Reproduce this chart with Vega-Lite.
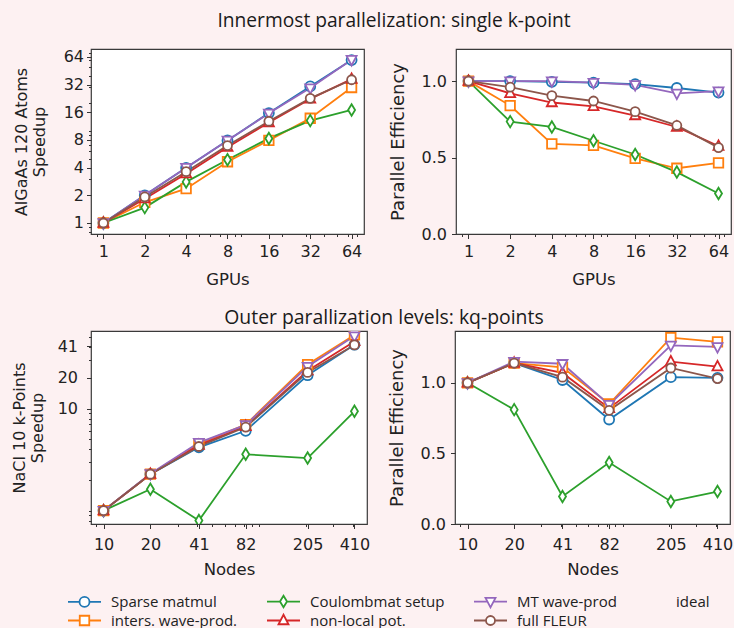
{
"$schema": "https://vega.github.io/schema/vega-lite/v6.json",
"background": "#fdf1f2",
"padding": {"left": 10, "top": 11, "right": 0, "bottom": 0},
"config": {
  "view": {"stroke": "#3a3a3a", "strokeWidth": 1.2, "fill": "white"},
  "axis": {"domain": false, "grid": false, "labelFont": "DejaVu Sans", "labelFontSize": 16, "labelColor": "#222", "titleFont": "DejaVu Sans", "titleFontSize": 16.5, "titleFontWeight": "normal", "titleColor": "#222", "tickColor": "#333", "tickWidth": 1, "labelOverlap": false, "labelFlush": false, "labelBound": false},
  "title": {"font": "Open Sans", "fontSize": 19.4, "fontWeight": "normal", "color": "#1a1a1a", "anchor": "middle"}
},
"datasets": {
 "tl": [
  {"s":"Sparse matmul","n":1,"v":1},{"s":"Sparse matmul","n":2,"v":2.0},{"s":"Sparse matmul","n":4,"v":3.98},{"s":"Sparse matmul","n":8,"v":7.92},{"s":"Sparse matmul","n":16,"v":15.7},{"s":"Sparse matmul","n":32,"v":30.6},{"s":"Sparse matmul","n":64,"v":59.2},
  {"s":"inters. wave-prod.","n":1,"v":1},{"s":"inters. wave-prod.","n":2,"v":1.68},{"s":"inters. wave-prod.","n":4,"v":2.36},{"s":"inters. wave-prod.","n":8,"v":4.64},{"s":"inters. wave-prod.","n":16,"v":7.92},{"s":"inters. wave-prod.","n":32,"v":13.8},{"s":"inters. wave-prod.","n":64,"v":29.8},
  {"s":"Coulombmat setup","n":1,"v":1},{"s":"Coulombmat setup","n":2,"v":1.47},{"s":"Coulombmat setup","n":4,"v":2.8},{"s":"Coulombmat setup","n":8,"v":4.88},{"s":"Coulombmat setup","n":16,"v":8.32},{"s":"Coulombmat setup","n":32,"v":13.0},{"s":"Coulombmat setup","n":64,"v":17.0},
  {"s":"non-local pot.","n":1,"v":1},{"s":"non-local pot.","n":2,"v":1.84},{"s":"non-local pot.","n":4,"v":3.44},{"s":"non-local pot.","n":8,"v":6.68},{"s":"non-local pot.","n":16,"v":12.4},{"s":"non-local pot.","n":32,"v":22.4},{"s":"non-local pot.","n":64,"v":36.8},
  {"s":"MT wave-prod","n":1,"v":1},{"s":"MT wave-prod","n":2,"v":2.0},{"s":"MT wave-prod","n":4,"v":4.0},{"s":"MT wave-prod","n":8,"v":7.92},{"s":"MT wave-prod","n":16,"v":15.6},{"s":"MT wave-prod","n":32,"v":29.4},{"s":"MT wave-prod","n":64,"v":59.8},
  {"s":"full FLEUR","n":1,"v":1},{"s":"full FLEUR","n":2,"v":1.92},{"s":"full FLEUR","n":4,"v":3.62},{"s":"full FLEUR","n":8,"v":6.96},{"s":"full FLEUR","n":16,"v":12.8},{"s":"full FLEUR","n":32,"v":22.7},{"s":"full FLEUR","n":64,"v":36.2}
 ],
 "tr": [
  {"s":"Sparse matmul","n":1,"v":1},{"s":"Sparse matmul","n":2,"v":1.0},{"s":"Sparse matmul","n":4,"v":0.995},{"s":"Sparse matmul","n":8,"v":0.99},{"s":"Sparse matmul","n":16,"v":0.98},{"s":"Sparse matmul","n":32,"v":0.955},{"s":"Sparse matmul","n":64,"v":0.925},
  {"s":"inters. wave-prod.","n":1,"v":1},{"s":"inters. wave-prod.","n":2,"v":0.84},{"s":"inters. wave-prod.","n":4,"v":0.59},{"s":"inters. wave-prod.","n":8,"v":0.58},{"s":"inters. wave-prod.","n":16,"v":0.495},{"s":"inters. wave-prod.","n":32,"v":0.43},{"s":"inters. wave-prod.","n":64,"v":0.465},
  {"s":"Coulombmat setup","n":1,"v":1},{"s":"Coulombmat setup","n":2,"v":0.735},{"s":"Coulombmat setup","n":4,"v":0.70},{"s":"Coulombmat setup","n":8,"v":0.61},{"s":"Coulombmat setup","n":16,"v":0.52},{"s":"Coulombmat setup","n":32,"v":0.405},{"s":"Coulombmat setup","n":64,"v":0.265},
  {"s":"non-local pot.","n":1,"v":1},{"s":"non-local pot.","n":2,"v":0.92},{"s":"non-local pot.","n":4,"v":0.86},{"s":"non-local pot.","n":8,"v":0.835},{"s":"non-local pot.","n":16,"v":0.775},{"s":"non-local pot.","n":32,"v":0.70},{"s":"non-local pot.","n":64,"v":0.575},
  {"s":"MT wave-prod","n":1,"v":1},{"s":"MT wave-prod","n":2,"v":1.0},{"s":"MT wave-prod","n":4,"v":1.0},{"s":"MT wave-prod","n":8,"v":0.99},{"s":"MT wave-prod","n":16,"v":0.975},{"s":"MT wave-prod","n":32,"v":0.92},{"s":"MT wave-prod","n":64,"v":0.935},
  {"s":"full FLEUR","n":1,"v":1},{"s":"full FLEUR","n":2,"v":0.96},{"s":"full FLEUR","n":4,"v":0.905},{"s":"full FLEUR","n":8,"v":0.87},{"s":"full FLEUR","n":16,"v":0.80},{"s":"full FLEUR","n":32,"v":0.71},{"s":"full FLEUR","n":64,"v":0.565}
 ],
 "bl": [
  {"s":"Sparse matmul","n":10,"v":1},{"s":"Sparse matmul","n":20,"v":2.28},{"s":"Sparse matmul","n":41,"v":4.18},{"s":"Sparse matmul","n":82,"v":6.07},{"s":"Sparse matmul","n":205,"v":21.3},{"s":"Sparse matmul","n":410,"v":42.4},
  {"s":"inters. wave-prod.","n":10,"v":1},{"s":"inters. wave-prod.","n":20,"v":2.28},{"s":"inters. wave-prod.","n":41,"v":4.55},{"s":"inters. wave-prod.","n":82,"v":6.97},{"s":"inters. wave-prod.","n":205,"v":27.1},{"s":"inters. wave-prod.","n":410,"v":52.9},
  {"s":"Coulombmat setup","n":10,"v":1},{"s":"Coulombmat setup","n":20,"v":1.62},{"s":"Coulombmat setup","n":41,"v":0.80},{"s":"Coulombmat setup","n":82,"v":3.57},{"s":"Coulombmat setup","n":205,"v":3.28},{"s":"Coulombmat setup","n":410,"v":9.43},
  {"s":"non-local pot.","n":10,"v":1},{"s":"non-local pot.","n":20,"v":2.28},{"s":"non-local pot.","n":41,"v":4.39},{"s":"non-local pot.","n":82,"v":6.72},{"s":"non-local pot.","n":205,"v":23.6},{"s":"non-local pot.","n":410,"v":45.7},
  {"s":"MT wave-prod","n":10,"v":1},{"s":"MT wave-prod","n":20,"v":2.3},{"s":"MT wave-prod","n":41,"v":4.65},{"s":"MT wave-prod","n":82,"v":6.93},{"s":"MT wave-prod","n":205,"v":25.9},{"s":"MT wave-prod","n":410,"v":51.5},
  {"s":"full FLEUR","n":10,"v":1},{"s":"full FLEUR","n":20,"v":2.28},{"s":"full FLEUR","n":41,"v":4.26},{"s":"full FLEUR","n":82,"v":6.6},{"s":"full FLEUR","n":205,"v":22.7},{"s":"full FLEUR","n":410,"v":42.2}
 ],
 "br": [
  {"s":"Sparse matmul","n":10,"v":1},{"s":"Sparse matmul","n":20,"v":1.14},{"s":"Sparse matmul","n":41,"v":1.02},{"s":"Sparse matmul","n":82,"v":0.74},{"s":"Sparse matmul","n":205,"v":1.04},{"s":"Sparse matmul","n":410,"v":1.035},
  {"s":"inters. wave-prod.","n":10,"v":1},{"s":"inters. wave-prod.","n":20,"v":1.14},{"s":"inters. wave-prod.","n":41,"v":1.11},{"s":"inters. wave-prod.","n":82,"v":0.85},{"s":"inters. wave-prod.","n":205,"v":1.32},{"s":"inters. wave-prod.","n":410,"v":1.29},
  {"s":"Coulombmat setup","n":10,"v":1},{"s":"Coulombmat setup","n":20,"v":0.81},{"s":"Coulombmat setup","n":41,"v":0.195},{"s":"Coulombmat setup","n":82,"v":0.435},{"s":"Coulombmat setup","n":205,"v":0.16},{"s":"Coulombmat setup","n":410,"v":0.23},
  {"s":"non-local pot.","n":10,"v":1},{"s":"non-local pot.","n":20,"v":1.14},{"s":"non-local pot.","n":41,"v":1.07},{"s":"non-local pot.","n":82,"v":0.82},{"s":"non-local pot.","n":205,"v":1.15},{"s":"non-local pot.","n":410,"v":1.115},
  {"s":"MT wave-prod","n":10,"v":1},{"s":"MT wave-prod","n":20,"v":1.15},{"s":"MT wave-prod","n":41,"v":1.135},{"s":"MT wave-prod","n":82,"v":0.845},{"s":"MT wave-prod","n":205,"v":1.265},{"s":"MT wave-prod","n":410,"v":1.255},
  {"s":"full FLEUR","n":10,"v":1},{"s":"full FLEUR","n":20,"v":1.14},{"s":"full FLEUR","n":41,"v":1.04},{"s":"full FLEUR","n":82,"v":0.805},{"s":"full FLEUR","n":205,"v":1.105},{"s":"full FLEUR","n":410,"v":1.03}
 ]
},
"bounds": "flush",
"spacing": 282,
"vconcat": [
 {"title": {"text": "Innermost parallelization: single k-point", "offset": 14, "dx": 22, "fontSize": 19.2},
  "bounds": "flush", "spacing": 92,
  "hconcat": [
   {"width": 273, "height": 185, "data": {"name": "tl"},
    "encoding": {
     "x": {"field": "n", "type": "quantitative", "title": "GPUs", "scale": {"type": "log", "domain": [0.8123, 78.79], "nice": false},
       "axis": {"values": [0.9,1,2,3,4,5,6,7,8,9,10,16,20,30,32,40,50,60,64,70], "format": "d", "labelExpr": "indexof([1,2,4,8,16,32,64], datum.value) >= 0 ? datum.label : ''", "tickSize": {"condition": {"test": "indexof([1,2,4,8,16,32,64], datum.value) >= 0", "value": 4.5}, "value": 2.5}, "labelPadding": 5, "titlePadding": 12}},
     "y": {"field": "v", "type": "quantitative", "title": ["AlGaAs 120 Atoms", "Speedup"], "scale": {"type": "log", "domain": [0.759, 78.2], "nice": false},
       "axis": {"values": [0.8,0.9,1,2,3,4,5,6,7,8,9,10,16,20,30,32,40,50,60,64,70], "format": "d", "labelExpr": "indexof([1,2,4,8,16,32,64], datum.value) >= 0 ? datum.label : ''", "tickSize": {"condition": {"test": "indexof([1,2,4,8,16,32,64], datum.value) >= 0", "value": 4.5}, "value": 2.5}, "labelPadding": 3, "titlePadding": 16, "titleFontSize": 16}},
     "color": {"field": "s", "type": "nominal",
       "scale": {"domain": ["Sparse matmul","inters. wave-prod.","Coulombmat setup","non-local pot.","MT wave-prod","full FLEUR","ideal"], "range": ["#1f77b4","#ff7f0e","#2ca02c","#d62728","#9467bd","#8c564b","#000000"]},
       "legend": {"orient": "none", "legendX": -14, "legendY": 545, "title": null, "columns": 4, "columnPadding": 25, "rowPadding": 0, "padding": 0, "symbolSize": 100, "symbolStrokeWidth": 1.8, "labelFont": "Open Sans", "labelFontSize": 15, "labelColor": "#222", "labelOffset": 19,
         "encode": {"symbols": {"update": {
           "fill": {"value": "white"},
           "shape": {"signal": "datum.value === 'Sparse matmul' ? 'M-3.3,0H-1M1,0H3.3M1,0A1,1 0 1,1 -1,0A1,1 0 1,1 1,0Z' : datum.value === 'Coulombmat setup' ? 'M-3.3,0H-0.7M0.7,0H3.3M0,-1.15L0.7,0L0,1.15L-0.7,0Z' : datum.value === 'MT wave-prod' ? 'M-3.3,0H-0.6M0.6,0H3.3M0,1.15L1,-0.75H-1Z' : datum.value === 'inters. wave-prod.' ? 'M-3.3,0H-0.95M0.95,0H3.3M-0.95,-0.95H0.95V0.95H-0.95Z' : datum.value === 'non-local pot.' ? 'M-3.3,0H-0.6M0.6,0H3.3M0,-1.15L1,0.75H-1Z' : datum.value === 'full FLEUR' ? 'M-3.3,0H-0.9M0.9,0H3.3M0.9,0A0.9,0.9 0 1,1 -0.9,0A0.9,0.9 0 1,1 0.9,0Z' : 'M0,0'"}
         }}}}
     }
    },
    "layer": [
     {"mark": {"type": "line", "strokeWidth": 1.8, "clip": true}},
     {"mark": {"type": "point", "filled": false, "fill": "white", "opacity": 1, "strokeWidth": 1.8, "size": 100, "clip": true},
      "encoding": {"shape": {"field": "s", "type": "nominal", "legend": null,
        "scale": {"domain": ["ideal","Sparse matmul","inters. wave-prod.","Coulombmat setup","non-local pot.","MT wave-prod","full FLEUR"],
          "range": ["M0,0","M1,0A1,1 0 1,1 -1,0A1,1 0 1,1 1,0Z","M-0.95,-0.95H0.95V0.95H-0.95Z","M0,-1.15L0.7,0L0,1.15L-0.7,0Z","M0,-1.15L1,0.75H-1Z","M0,1.15L1,-0.75H-1Z","M0.9,0A0.9,0.9 0 1,1 -0.9,0A0.9,0.9 0 1,1 0.9,0Z"]}}}}
    ]
   },
   {"width": 275, "height": 185, "data": {"name": "tr"},
    "encoding": {
     "x": {"field": "n", "type": "quantitative", "title": "GPUs", "scale": {"type": "log", "domain": [0.8123, 78.79], "nice": false},
       "axis": {"values": [0.9,1,2,3,4,5,6,7,8,9,10,16,20,30,32,40,50,60,64,70], "format": "d", "labelExpr": "indexof([1,2,4,8,16,32,64], datum.value) >= 0 ? datum.label : ''", "tickSize": {"condition": {"test": "indexof([1,2,4,8,16,32,64], datum.value) >= 0", "value": 4.5}, "value": 2.5}, "labelPadding": 5, "titlePadding": 12}},
     "y": {"field": "v", "type": "quantitative", "title": "Parallel Efficiency", "scale": {"domain": [0, 1.21], "nice": false, "zero": false},
       "axis": {"values": [0, 0.5, 1], "format": ".1f", "tickSize": 4.5, "labelPadding": 5, "titlePadding": 14, "titleFontSize": 18}},
     "color": {"field": "s", "type": "nominal",
       "scale": {"domain": ["Sparse matmul","inters. wave-prod.","Coulombmat setup","non-local pot.","MT wave-prod","full FLEUR","ideal"], "range": ["#1f77b4","#ff7f0e","#2ca02c","#d62728","#9467bd","#8c564b","#000000"]}}
    },
    "layer": [
     {"mark": {"type": "line", "strokeWidth": 1.8, "clip": true}},
     {"mark": {"type": "point", "filled": false, "fill": "white", "opacity": 1, "strokeWidth": 1.8, "size": 100, "clip": true},
      "encoding": {"shape": {"field": "s", "type": "nominal", "legend": null,
        "scale": {"domain": ["ideal","Sparse matmul","inters. wave-prod.","Coulombmat setup","non-local pot.","MT wave-prod","full FLEUR"],
          "range": ["M0,0","M1,0A1,1 0 1,1 -1,0A1,1 0 1,1 1,0Z","M-0.95,-0.95H0.95V0.95H-0.95Z","M0,-1.15L0.7,0L0,1.15L-0.7,0Z","M0,-1.15L1,0.75H-1Z","M0,1.15L1,-0.75H-1Z","M0.9,0A0.9,0.9 0 1,1 -0.9,0A0.9,0.9 0 1,1 0.9,0Z"]}}}}
    ]
   }
  ]
 },
 {"title": {"text": "Outer parallization levels: kq-points", "offset": 0, "dx": 12},
  "bounds": "flush", "spacing": 88,
  "hconcat": [
   {"width": 276, "height": 193, "data": {"name": "bl"},
    "encoding": {
     "x": {"field": "n", "type": "quantitative", "title": "Nodes", "scale": {"type": "log", "domain": [8.305, 493.7], "nice": false},
       "axis": {"values": [9,10,20,30,40,41,50,60,70,80,82,90,100,200,205,300,400,410], "format": "d", "labelExpr": "indexof([10,20,41,82,205,410], datum.value) >= 0 ? datum.label : ''", "tickSize": {"condition": {"test": "indexof([10,20,41,82,205,410], datum.value) >= 0", "value": 4.5}, "value": 2.5}, "labelPadding": 8, "titlePadding": 9}},
     "y": {"field": "v", "type": "quantitative", "title": ["NaCl 10 k-Points", "Speedup"], "scale": {"type": "log", "domain": [0.74, 57.8], "nice": false},
       "axis": {"values": [0.8,0.9,1,2,3,4,5,6,7,8,9,10,20,30,40,41,50], "format": "d", "labelExpr": "indexof([10,20,41], datum.value) >= 0 ? datum.label : ''", "tickSize": {"condition": {"test": "indexof([10,20,41], datum.value) >= 0", "value": 4.5}, "value": 2.5}, "labelPadding": 9, "titlePadding": 12, "titleFontSize": 16}},
     "color": {"field": "s", "type": "nominal",
       "scale": {"domain": ["Sparse matmul","inters. wave-prod.","Coulombmat setup","non-local pot.","MT wave-prod","full FLEUR","ideal"], "range": ["#1f77b4","#ff7f0e","#2ca02c","#d62728","#9467bd","#8c564b","#000000"]}}
    },
    "layer": [
     {"mark": {"type": "line", "strokeWidth": 1.8, "clip": true}},
     {"mark": {"type": "point", "filled": false, "fill": "white", "opacity": 1, "strokeWidth": 1.8, "size": 100, "clip": true},
      "encoding": {"shape": {"field": "s", "type": "nominal", "legend": null,
        "scale": {"domain": ["ideal","Sparse matmul","inters. wave-prod.","Coulombmat setup","non-local pot.","MT wave-prod","full FLEUR"],
          "range": ["M0,0","M1,0A1,1 0 1,1 -1,0A1,1 0 1,1 1,0Z","M-0.95,-0.95H0.95V0.95H-0.95Z","M0,-1.15L0.7,0L0,1.15L-0.7,0Z","M0,-1.15L1,0.75H-1Z","M0,1.15L1,-0.75H-1Z","M0.9,0A0.9,0.9 0 1,1 -0.9,0A0.9,0.9 0 1,1 0.9,0Z"]}}}}
    ]
   },
   {"width": 275, "height": 193, "data": {"name": "br"},
    "encoding": {
     "x": {"field": "n", "type": "quantitative", "title": "Nodes", "scale": {"type": "log", "domain": [8.305, 493.7], "nice": false},
       "axis": {"values": [9,10,20,30,40,41,50,60,70,80,82,90,100,200,205,300,400,410], "format": "d", "labelExpr": "indexof([10,20,41,82,205,410], datum.value) >= 0 ? datum.label : ''", "tickSize": {"condition": {"test": "indexof([10,20,41,82,205,410], datum.value) >= 0", "value": 4.5}, "value": 2.5}, "labelPadding": 8, "titlePadding": 9}},
     "y": {"field": "v", "type": "quantitative", "title": "Parallel Efficiency", "scale": {"domain": [0, 1.367], "nice": false, "zero": false},
       "axis": {"values": [0, 0.5, 1], "format": ".1f", "tickSize": 4.5, "labelPadding": 5, "titlePadding": 14, "titleFontSize": 18}},
     "color": {"field": "s", "type": "nominal",
       "scale": {"domain": ["Sparse matmul","inters. wave-prod.","Coulombmat setup","non-local pot.","MT wave-prod","full FLEUR","ideal"], "range": ["#1f77b4","#ff7f0e","#2ca02c","#d62728","#9467bd","#8c564b","#000000"]}}
    },
    "layer": [
     {"mark": {"type": "line", "strokeWidth": 1.8, "clip": true}},
     {"mark": {"type": "point", "filled": false, "fill": "white", "opacity": 1, "strokeWidth": 1.8, "size": 100, "clip": true},
      "encoding": {"shape": {"field": "s", "type": "nominal", "legend": null,
        "scale": {"domain": ["ideal","Sparse matmul","inters. wave-prod.","Coulombmat setup","non-local pot.","MT wave-prod","full FLEUR"],
          "range": ["M0,0","M1,0A1,1 0 1,1 -1,0A1,1 0 1,1 1,0Z","M-0.95,-0.95H0.95V0.95H-0.95Z","M0,-1.15L0.7,0L0,1.15L-0.7,0Z","M0,-1.15L1,0.75H-1Z","M0,1.15L1,-0.75H-1Z","M0.9,0A0.9,0.9 0 1,1 -0.9,0A0.9,0.9 0 1,1 0.9,0Z"]}}}}
    ]
   }
  ]
 }
]
}
